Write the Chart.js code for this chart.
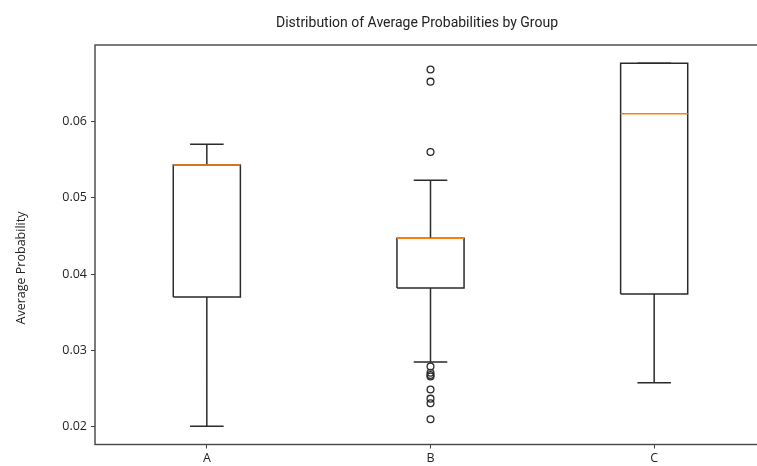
<!DOCTYPE html>
<html>
<head>
<meta charset="utf-8">
<script src="https://cdn.jsdelivr.net/npm/chart.js@4/dist/chart.umd.min.js"></script>
<style>
  html, body { margin: 0; padding: 0; background: #fff; overflow: hidden; }
  #wrap { width: 790px; height: 466px; }
</style>
</head>
<body>
<div id="wrap"><canvas id="c" width="790" height="466"></canvas></div>
<script>
// ---- data ----
const categories = ['A', 'B', 'C'];
const positions = [1, 2, 3];
const whiskerLow = [0.0201, 0.0285, 0.0258];
const q1 = [0.0370, 0.0382, 0.0374];
const median = [0.0543, 0.0447, 0.0610];
const q3 = [0.0543, 0.0447, 0.0676];
const whiskerHigh = [0.0570, 0.0523, 0.0676];
const outliersA = [];
const outliersB = [0.0668, 0.0652, 0.0560, 0.0279, 0.0271, 0.0268, 0.0266, 0.0249, 0.0237, 0.0231, 0.0210];
const outliersC = [];
const outliers = [outliersA, outliersB, outliersC];
const yTicks = [0.02, 0.03, 0.04, 0.05, 0.06];
const titleText = 'Distribution of Average Probabilities by Group';
const yLabel = 'Average Probability';

// ---- build library data ----
const boxW = 0.3, capW = 0.15;
const boxPts = [], whiskPts = [], medPts = [], outPts = [];
positions.forEach((p, i) => {
  const l = p - boxW / 2, r = p + boxW / 2;
  boxPts.push({x: l, y: q1[i]}, {x: r, y: q1[i]}, {x: r, y: q3[i]}, {x: l, y: q3[i]}, {x: l, y: q1[i]}, {x: p, y: null});
  whiskPts.push({x: p, y: q1[i]}, {x: p, y: whiskerLow[i]}, {x: p, y: null});
  whiskPts.push({x: p, y: q3[i]}, {x: p, y: whiskerHigh[i]}, {x: p, y: null});
  whiskPts.push({x: p - capW / 2, y: whiskerLow[i]}, {x: p + capW / 2, y: whiskerLow[i]}, {x: p, y: null});
  whiskPts.push({x: p - capW / 2, y: whiskerHigh[i]}, {x: p + capW / 2, y: whiskerHigh[i]}, {x: p, y: null});
  medPts.push({x: l, y: median[i]}, {x: r, y: median[i]}, {x: p, y: null});
  outliers[i].forEach(v => outPts.push({x: p, y: v}));
});

const lineCol = '#2a2a2a';
const lineDs = (data, color, width, order) => ({
  data, showLine: true, spanGaps: false, borderColor: color, borderWidth: width,
  pointRadius: 0, pointHoverRadius: 0, tension: 0, order,
  borderJoinStyle: 'miter', borderCapStyle: 'butt', fill: false
});

const framePlugin = {
  id: 'frame',
  afterDraw(chart) {
    const {ctx, chartArea: a} = chart;
    ctx.save();
    ctx.strokeStyle = '#444';
    ctx.lineWidth = 1.4;
    ctx.strokeRect(a.left, a.top, a.right - a.left, a.bottom - a.top);
    ctx.fillStyle = '#222';
    ctx.textAlign = 'center';
    ctx.textBaseline = 'middle';
    ctx.font = '14px Roboto';
    ctx.fillText(titleText, 417, 23);
    ctx.font = '12.5px "Open Sans"';
    ctx.translate(21, 268);
    ctx.rotate(-Math.PI / 2);
    ctx.fillText(yLabel, 0, 0);
    ctx.restore();
  }
};

new Chart(document.getElementById('c'), {
  type: 'scatter',
  data: {
    datasets: [
      lineDs(medPts, '#ff7f0e', 1.6, 0),
      {data: outPts, showLine: false, pointRadius: 3.4, pointHoverRadius: 3.4, pointBorderWidth: 1.3,
       borderColor: lineCol, backgroundColor: 'rgba(0,0,0,0)', pointStyle: 'circle', order: 1},
      lineDs(boxPts, lineCol, 1.5, 2),
      lineDs(whiskPts, lineCol, 1.5, 3)
    ]
  },
  options: {
    responsive: false,
    animation: false,
    devicePixelRatio: 1,
    layout: {padding: {left: 0, top: 45, right: 24, bottom: 0}},
    plugins: {legend: {display: false}, tooltip: {enabled: false}, title: {display: false}},
    scales: {
      x: {
        type: 'linear', min: 0.5, max: 3.5,
        afterBuildTicks: s => { s.ticks = positions.map(v => ({value: v})); },
        afterFit: s => { s.height = 21.5; },
        ticks: {callback: (v, i) => categories[i], color: '#222', font: {family: 'Open Sans', size: 12.5}, padding: 2, maxRotation: 0},
        grid: {display: true, drawOnChartArea: false, drawTicks: true, tickLength: 4, color: '#444', lineWidth: 1},
        border: {display: false}
      },
      y: {
        type: 'linear', min: 0.0177, max: 0.0700,
        afterBuildTicks: s => { s.ticks = yTicks.map(v => ({value: v})); },
        afterFit: s => { s.width = 95; },
        ticks: {callback: v => v.toFixed(2), color: '#222', font: {family: 'Open Sans', size: 12.5}, padding: 4},
        grid: {display: true, drawOnChartArea: false, drawTicks: true, tickLength: 4, color: '#444', lineWidth: 1},
        border: {display: false}
      }
    }
  },
  plugins: [framePlugin]
});
</script>
</body>
</html>
